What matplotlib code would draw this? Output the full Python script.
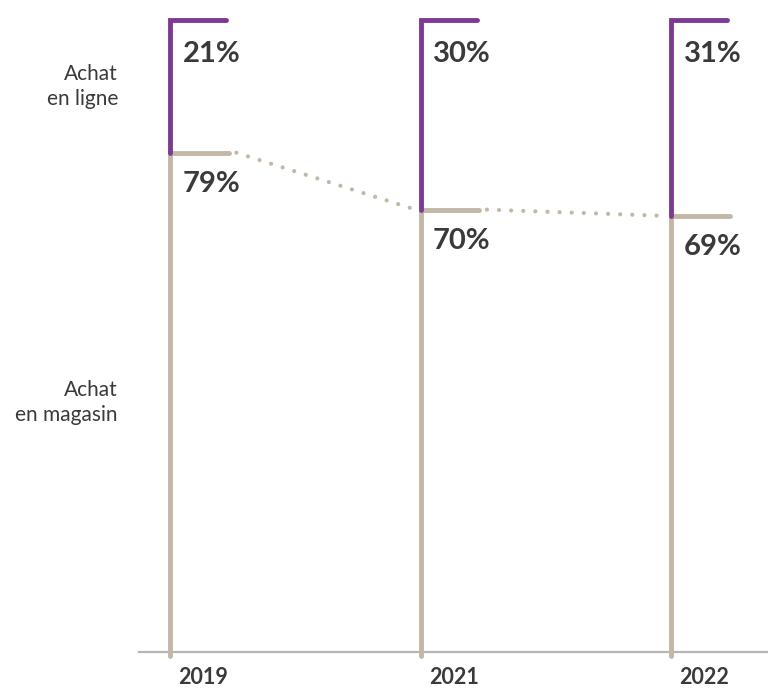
import matplotlib.pyplot as plt

# Data
years = ["2019", "2021", "2022"]
in_store = [79, 70, 69]
online = [21, 30, 31]
segment_labels = ["Achat\nen ligne", "Achat\nen magasin"]

purple = "#7d3a94"
beige = "#c3b7a5"
text_col = "#3a3a3a"

plt.rcParams["font.family"] = ["Lato", "DejaVu Sans"]

fig = plt.figure(figsize=(7.68, 6.89), dpi=100)
# axes placed so that 0 sits on the baseline and 100 at the top
ax = fig.add_axes([0, 37 / 689, 1, 632 / 689])
ax.set_xlim(-170 / 250.5, (768 - 170) / 250.5)
ax.set_ylim(0, 100)
ax.axis("off")

# baseline
ax.plot([-0.125, 2.4], [0, 0], color="#b5b5b5", lw=1.6, clip_on=False, zorder=1)

tick_len = 0.235
for i, (year, shop, web) in enumerate(zip(years, in_store, online)):
    # in-store segment: vertical + tick at its top
    ax.plot([i, i, i + tick_len], [-0.6, shop, shop], color=beige, lw=3.5,
            solid_capstyle="round", solid_joinstyle="miter", clip_on=False, zorder=3)
    # online segment stacked on top
    top = shop + web
    ax.plot([i, i, i + tick_len - 0.01], [shop, top, top], color=purple, lw=3.5,
            solid_capstyle="round", solid_joinstyle="miter", clip_on=False, zorder=3)

    ax.annotate(f"{web}%", (i, top), xytext=(9, -15), textcoords="offset points",
                ha="left", va="top", fontsize=21, fontweight="bold", color=text_col)
    ax.annotate(f"{shop}%", (i, shop), xytext=(9, -13), textcoords="offset points",
                ha="left", va="top", fontsize=21, fontweight="bold", color=text_col)
    ax.annotate(year, (i, 0), xytext=(6, -11), textcoords="offset points",
                ha="left", va="top", fontsize=15.5, fontweight="bold", color=text_col)

# dotted connector between in-store levels
for i in range(len(years) - 1):
    ax.plot([i + tick_len + 0.03, i + 1 - 0.02], [in_store[i], in_store[i + 1]],
            color=beige, lw=3, linestyle=(0, (0.01, 2.9)), dash_capstyle="round", zorder=2)

# segment labels on the left, centred on the 2019 segments
ax.text(-0.208, in_store[0] + online[0] / 2, segment_labels[0], ha="right", va="center",
        fontsize=15, color=text_col, linespacing=1.3)
ax.text(-0.208, in_store[0] / 2, segment_labels[1], ha="right", va="center",
        fontsize=15, color=text_col, linespacing=1.3)

fig.savefig("out.png", dpi=100)
